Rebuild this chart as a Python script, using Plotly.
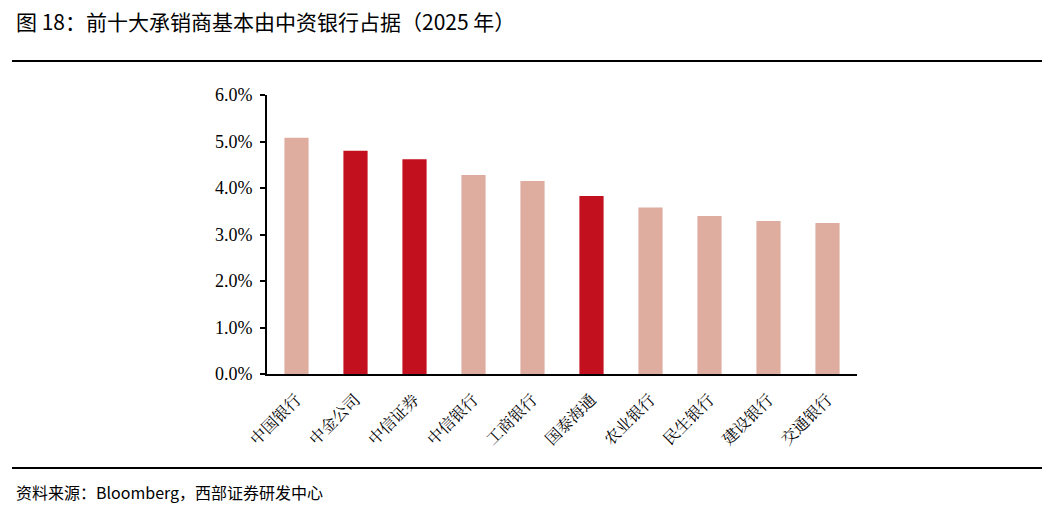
import plotly.graph_objects as go

categories = ["中国银行", "中金公司", "中信证券", "中信银行", "工商银行",
              "国泰海通", "农业银行", "民生银行", "建设银行", "交通银行"]
shares = [0.0508, 0.0480, 0.0462, 0.0428, 0.0415, 0.0383, 0.0358, 0.0340, 0.0329, 0.0325]
is_broker = [False, True, True, False, False, True, False, False, False, False]

LIGHT = "#DEADA0"
DARK = "#C3101F"
colors = [DARK if b else LIGHT for b in is_broker]

OFF = 8  # page body margin
W, H = 1054 - OFF, 513 - OFF
L, R, T, B = 267, 857, 95, 374  # plot area in page pixels


def px(x):
    return (x - L) / (R - L)


def py(y):
    return (B - y) / (B - T)


fig = go.Figure(go.Bar(x=categories, y=shares, marker=dict(color=colors, line=dict(width=0)),
                       width=0.41, hoverinfo="x+y"))

fig.update_layout(
    width=W, height=H,
    margin=dict(l=L - OFF, r=W - (R - OFF), t=T - OFF, b=H - (B - OFF), pad=0),
    paper_bgcolor="white", plot_bgcolor="white",
    showlegend=False,
    xaxis=dict(
        showline=True, linecolor="black", linewidth=2, ticks="",
        tickangle=-45, tickfont=dict(family="Noto Serif CJK SC, Noto Sans CJK SC", size=16, color="black"),
        ticklabelstandoff=8,
        showgrid=False, zeroline=False,
    ),
    yaxis=dict(
        range=[0, 0.06], dtick=0.01, tickformat=".1%",
        showline=True, linecolor="black", linewidth=2, ticks="outside", ticklen=5,
        tickcolor="black", tickwidth=1.5,
        tickfont=dict(family="Liberation Serif, Times New Roman", size=18, color="black"),
        ticklabelstandoff=4,
        showgrid=False, zeroline=False,
    ),
    shapes=[
        dict(type="line", xref="paper", yref="paper", x0=px(12), x1=px(1042), y0=py(61), y1=py(61),
             line=dict(color="black", width=2)),
        dict(type="line", xref="paper", yref="paper", x0=px(12), x1=px(1042), y0=py(468), y1=py(468),
             line=dict(color="black", width=2)),
    ],
    annotations=[
        dict(text="图 18：前十大承销商基本由中资银行占据（2025 年）", xref="paper", yref="paper",
             x=px(14), y=py(21), xanchor="left", yanchor="middle", showarrow=False,
             font=dict(family="Noto Sans CJK SC", size=21, color="black")),
        dict(text="资料来源：Bloomberg，西部证券研发中心", xref="paper", yref="paper",
             x=px(14), y=py(492), xanchor="left", yanchor="middle", showarrow=False,
             font=dict(family="Noto Sans CJK SC", size=16, color="black")),
    ],
)

fig.write_html("out.html")
